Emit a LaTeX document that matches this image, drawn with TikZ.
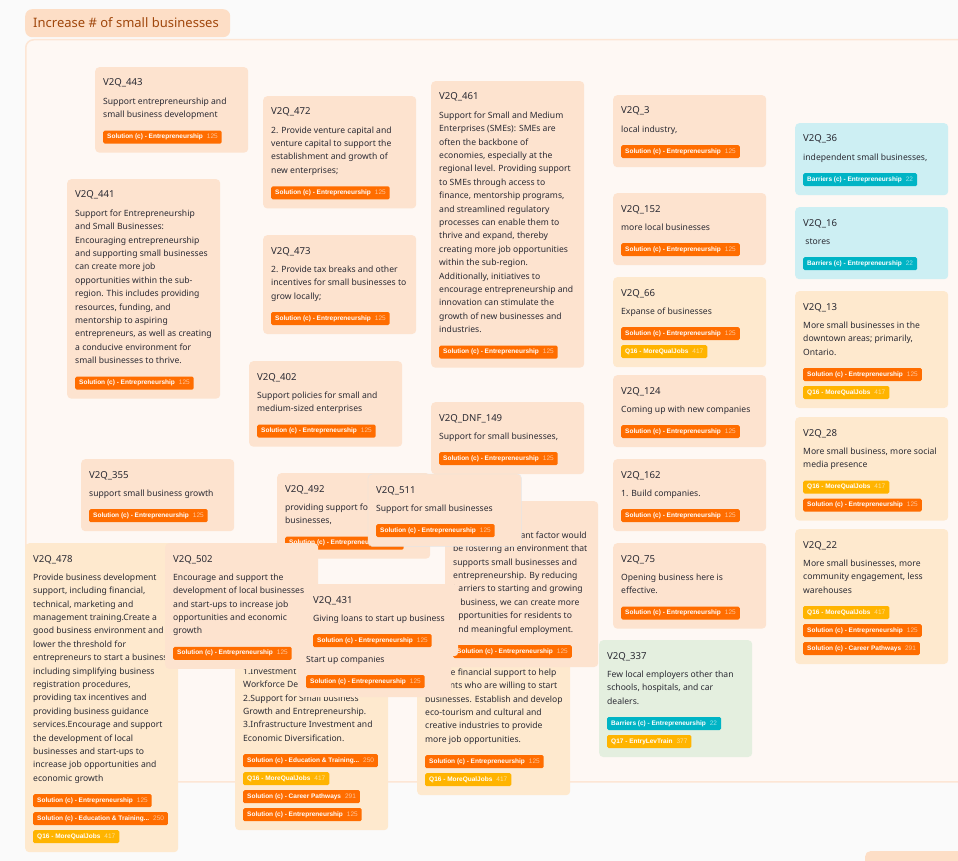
\documentclass[tikz,border=0pt]{standalone}
\usepackage{fontspec}
\setmainfont{Noto Sans}
\newfontfamily\tagfont{Liberation Sans}
\definecolor{pageBg}{HTML}{FAFAFA}
\definecolor{contFill}{HTML}{FEF8F4}
\definecolor{contLine}{HTML}{FDE6D5}
\definecolor{pillFill}{HTML}{FDDEC6}
\definecolor{pillText}{HTML}{A0470C}
\definecolor{peach}{HTML}{FDE3CF}
\definecolor{cream}{HTML}{FEE9CE}
\definecolor{cyanc}{HTML}{CDEFF3}
\definecolor{greenc}{HTML}{E4EFDF}
\definecolor{solc}{HTML}{FF6D00}
\definecolor{qc}{HTML}{FFB400}
\definecolor{barc}{HTML}{00B4C5}
\definecolor{txt}{HTML}{2A2A33}
\tikzset{
 cardbox/.style={rectangle, rounded corners=4, minimum width=153, inner sep=0},
 cardtitle/.style={anchor=base west, inner sep=0, text=txt, font=\fontsize{9.6}{11}\selectfont},
 cardbody/.style={anchor=north west, inner sep=0, text=txt, align=left, font=\fontsize{8.6}{13.4}\selectfont},
 tagbox/.style={rectangle, rounded corners=1.5, inner xsep=4, inner ysep=0, minimum height=13, text=white, font=\tagfont\bfseries\fontsize{6.5}{7}\selectfont},
 pill/.style={rectangle, rounded corners=7, fill=pillFill, inner sep=0},
 pilltext/.style={inner sep=0, text=pillText, font=\fontsize{13}{15}\selectfont},
 container/.style={rectangle, rounded corners=8, fill=contFill, draw=contLine, line width=1.5, inner sep=0},
}
\newcommand\mkcard[8]{%
 \pgfmathsetmacro\cardh{54+(#5-1)*13.4+18*#6}%
 \node[cardbox, fill=#4, minimum height=\cardh, anchor=north west] (#1) at (#2,#3) {};
 \node[cardtitle] (#1t) at (#2+8,#3+19) {#7};
 \node[cardbody] (#1b) at (#2+8,#3+29) {\rule{0pt}{8pt}#8};
 \pgfmathsetmacro\tagy{#3+33+(#5-1)*13.4+17}%
 \xdef\tagY{\tagy}\xdef\tagX{#2+8}%
}
\newcommand\mktag[4]{%
 \node[tagbox, fill=#2, anchor=north west] (#1) at (\tagX,\tagY) {#3\hspace{4pt}{\mdseries\color{white!60!#2}#4}};
 \pgfmathsetmacro\tagy{\tagY+18}\xdef\tagY{\tagy}%
}
\newcommand\tSol[1]{\mktag{#1}{solc}{Solution (c) - Entrepreneurship}{125}}
\newcommand\tQ[1]{\mktag{#1}{qc}{Q16 - MoreQualJobs}{417}}
\newcommand\tBar[1]{\mktag{#1}{barc}{Barriers (c) - Entrepreneurship}{22}}
\newcommand\tCar[1]{\mktag{#1}{solc}{Solution (c) - Career Pathways}{291}}
\newcommand\tEdu[1]{\mktag{#1}{solc}{Solution (c) - Education \& Training...}{250}}
\newcommand\tQs[1]{\mktag{#1}{qc}{Q17 - EntryLevTrain}{377}}
\begin{document}
\begin{tikzpicture}[x=1pt,y=-1pt]
\useasboundingbox (0,0) rectangle (958,861);
\clip (0,0) rectangle (958,861);
\fill[pageBg] (0,0) rectangle (958,861);
\node[container, anchor=north west, minimum width=960, minimum height=742] (group) at (25,39) {};
\node[pill, anchor=north west, minimum width=205, minimum height=28] (pill) at (25,9) {};
\node[pilltext, anchor=west] (pillt) at (33,23) {Increase \# of small businesses};
\node[pill, anchor=north west, minimum width=120, minimum height=30, rounded corners=5] (nextgroup) at (865,851) {};

\mkcard{c443}{95}{67}{peach}{2}{1}{V2Q\_443}{Support entrepreneurship and\\small business development}
\tSol{c443a}
\mkcard{c472}{263}{96}{peach}{4}{1}{V2Q\_472}{2. Provide venture capital and\\venture capital to support the\\establishment and growth of\\new enterprises;}
\tSol{c472a}
\mkcard{c441}{67}{179}{peach}{12}{1}{V2Q\_441}{Support for Entrepreneurship\\and Small Businesses:\\Encouraging entrepreneurship\\and supporting small businesses\\can create more job\\opportunities within the sub-\\region. This includes providing\\resources, funding, and\\mentorship to aspiring\\entrepreneurs, as well as creating\\a conducive environment for\\small businesses to thrive.}
\tSol{c441a}
\mkcard{c461}{431}{81}{peach}{17}{1}{V2Q\_461}{Support for Small and Medium\\Enterprises (SMEs): SMEs are\\often the backbone of\\economies, especially at the\\regional level. Providing support\\to SMEs through access to\\finance, mentorship programs,\\and streamlined regulatory\\processes can enable them to\\thrive and expand, thereby\\creating more job opportunities\\within the sub-region.\\Additionally, initiatives to\\encourage entrepreneurship and\\innovation can stimulate the\\growth of new businesses and\\industries.}
\tSol{c461a}
\mkcard{c3}{613}{95}{peach}{1}{1}{V2Q\_3}{local industry,}
\tSol{c3a}
\mkcard{c36}{795}{123}{cyanc}{1}{1}{V2Q\_36}{independent small businesses,}
\tBar{c36a}
\mkcard{c16}{795}{207}{cyanc}{1}{1}{V2Q\_16}{\ stores}
\tBar{c16a}
\mkcard{c152}{613}{193}{peach}{1}{1}{V2Q\_152}{more local businesses}
\tSol{c152a}
\mkcard{c66}{613}{277}{cream}{1}{2}{V2Q\_66}{Expanse of businesses}
\tSol{c66a}\tQ{c66b}
\mkcard{c13}{795}{291}{cream}{3}{2}{V2Q\_13}{More small businesses in the\\downtown areas; primarily,\\Ontario.}
\tSol{c13a}\tQ{c13b}
\mkcard{c473}{263}{235}{peach}{3}{1}{V2Q\_473}{2. Provide tax breaks and other\\incentives for small businesses to\\grow locally;}
\tSol{c473a}
\mkcard{c402}{249}{361}{peach}{2}{1}{V2Q\_402}{Support policies for small and\\medium-sized enterprises}
\tSol{c402a}
\mkcard{c124}{613}{375}{peach}{1}{1}{V2Q\_124}{Coming up with new companies}
\tSol{c124a}
\mkcard{c28}{795}{417}{cream}{2}{2}{V2Q\_28}{More small business, more social\\media presence}
\tQ{c28a}\tSol{c28b}
\mkcard{cdnf}{431}{402}{peach}{1}{1}{V2Q\_DNF\_149}{Support for small businesses,}
\tSol{cdnfa}
\mkcard{c162}{613}{459}{peach}{1}{1}{V2Q\_162}{1. Build companies.}
\tSol{c162a}
\mkcard{c355}{81}{459}{peach}{1}{1}{V2Q\_355}{support small business growth}
\tSol{c355a}
\mkcard{c75}{613}{543}{peach}{2}{1}{V2Q\_75}{Opening business here is\\effective.}
\tSol{c75a}
\mkcard{c22}{795}{529}{cream}{3}{3}{V2Q\_22}{More small businesses, more\\community engagement, less\\warehouses}
\tQ{c22a}\tSol{c22b}\tCar{c22c}
\mkcard{c337}{599}{640}{greenc}{3}{2}{V2Q\_337}{Few local employers other than\\schools, hospitals, and car\\dealers.}
\tBar{c337a}\tQs{c337b}

\mkcard{c492}{277}{473}{peach}{2}{1}{V2Q\_492}{providing support for small\\businesses,}
\tSol{c492a}
\mkcard{cx3}{417}{638}{cream}{6}{2}{}{Provide financial support to help\\residents who are willing to start\\businesses. Establish and develop\\eco-tourism and cultural and\\creative industries to provide\\more job opportunities.}
\tSol{cx3a}\tQ{cx3b}
\mkcard{cx4}{445}{501}{peach}{8}{1}{}{The most important factor would\\be fostering an environment that\\supports small businesses and\\entrepreneurship. By reducing\\barriers to starting and growing\\a business, we can create more\\opportunities for residents to\\find meaningful employment.}
\tSol{cx4a}
\mkcard{c511}{368}{474}{peach}{1}{1}{V2Q\_511}{Support for small businesses}
\tSol{c511a}
\draw[black!10, rounded corners=4] (c511.north west) rectangle (c511.south east);
\mkcard{c478}{25}{543}{cream}{16}{3}{V2Q\_478}{Provide business development\\support, including financial,\\technical, marketing and\\management training.Create a\\good business environment and\\lower the threshold for\\entrepreneurs to start a business,\\including simplifying business\\registration procedures,\\providing tax incentives and\\providing business guidance\\services.Encourage and support\\the development of local\\businesses and start-ups to\\increase job opportunities and\\economic growth}
\tSol{c478a}\tEdu{c478b}\tQ{c478c}
\mkcard{cx1}{235}{637}{cream}{6}{4}{}{1.Investment in Education and\\Workforce Development.\\2.Support for Small business\\Growth and Entrepreneurship.\\3.Infrastructure Investment and\\Economic Diversification.}
\tEdu{cx1a}\tQ{cx1b}\tCar{cx1c}\tSol{cx1d}
\mkcard{c502}{165}{543}{peach}{5}{1}{V2Q\_502}{Encourage and support the\\development of local businesses\\and start-ups to increase job\\opportunities and economic\\growth}
\tSol{c502a}
\mkcard{cx2}{298}{625}{peach}{1}{1}{}{Start up companies}
\tSol{cx2a}
\mkcard{c431}{305}{584}{peach}{1}{1}{V2Q\_431}{Giving loans to start up business}
\tSol{c431a}
\end{tikzpicture}
\end{document}
